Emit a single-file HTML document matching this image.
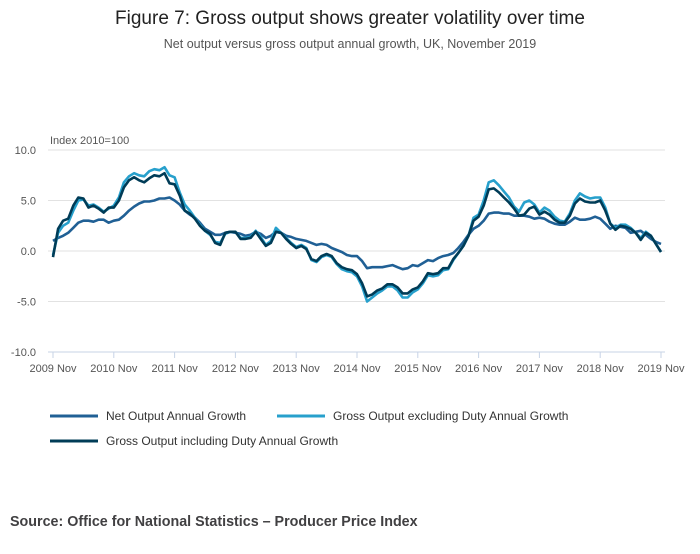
<!DOCTYPE html>
<html><head><meta charset="utf-8"><style>
body{margin:0;background:#fff;font-family:"Liberation Sans",sans-serif}
#wrap{position:relative;width:700px;height:549px}
</style></head><body>
<div id="wrap">
<svg id="svg" width="700" height="549">
<text x="350" y="24" text-anchor="middle" font-size="19" fill="#222">Figure 7: Gross output shows greater volatility over time</text>
<text x="350" y="48" text-anchor="middle" font-size="12.5" fill="#555">Net output versus gross output annual growth, UK, November 2019</text>
<text x="50" y="144" font-size="11" fill="#555">Index 2010=100</text>
<g id="grid"></g><g id="lines"></g>
<g>
<line x1="50" y1="416" x2="98" y2="416" stroke="#206095" stroke-width="3"/>
<text x="106" y="420" font-size="12" fill="#333">Net Output Annual Growth</text>
<line x1="277" y1="416" x2="325" y2="416" stroke="#27a0cc" stroke-width="3"/>
<text x="333" y="420" font-size="12" fill="#333">Gross Output excluding Duty Annual Growth</text>
<line x1="50" y1="441" x2="98" y2="441" stroke="#003c57" stroke-width="3"/>
<text x="106" y="445" font-size="12" fill="#333">Gross Output including Duty Annual Growth</text>
</g>
<text x="10" y="526" font-size="14.3" font-weight="bold" fill="#414042">Source: Office for National Statistics – Producer Price Index</text>
</svg></div>
<script>
const xTickLabels=["2009 Nov","2010 Nov","2011 Nov","2012 Nov","2013 Nov","2014 Nov","2015 Nov","2016 Nov","2017 Nov","2018 Nov","2019 Nov"];
const yTicks=[10,5,0,-5,-10];
const yTickLabels=["10.0","5.0","0.0","-5.0","-10.0"];
const netOutput=[1.0,1.3,1.5,1.8,2.3,2.8,3.0,3.0,2.9,3.1,3.1,2.8,
3.0,3.1,3.5,4.0,4.4,4.7,4.9,4.9,5.0,5.2,5.2,5.3,
5.0,4.6,4.0,3.6,3.3,2.8,2.2,1.9,1.6,1.6,1.8,1.9,
1.8,1.7,1.5,1.6,1.9,1.7,1.3,1.5,1.9,1.8,1.5,1.4,
1.2,1.1,1.0,0.8,0.6,0.7,0.6,0.3,0.1,-0.1,-0.4,-0.5,
-0.5,-1.0,-1.7,-1.6,-1.6,-1.6,-1.5,-1.4,-1.6,-1.8,-1.7,-1.4,
-1.5,-1.2,-0.9,-1.0,-0.7,-0.5,-0.4,-0.2,0.3,0.9,1.6,2.2,
2.5,3.0,3.7,3.8,3.8,3.7,3.7,3.5,3.5,3.5,3.4,3.2,
3.3,3.2,2.9,2.7,2.6,2.6,2.9,3.3,3.1,3.1,3.2,3.4,
3.2,2.7,2.2,2.5,2.4,2.3,1.8,1.9,2.0,1.6,1.2,0.9,0.7];
const grossExcl=[-0.4,1.8,2.5,2.8,4.0,5.0,5.1,4.5,4.6,4.3,3.9,4.2,
4.5,5.3,6.8,7.4,7.7,7.5,7.4,7.9,8.1,8.0,8.3,7.5,
7.3,5.8,4.6,4.0,3.3,2.6,2.0,1.6,0.9,0.8,1.7,1.9,
1.9,1.3,1.3,1.4,2.0,1.4,0.6,1.0,2.3,1.8,1.3,0.8,
0.4,0.6,0.3,-0.9,-1.1,-0.6,-0.4,-0.6,-1.3,-1.8,-2.0,-2.1,
-2.5,-3.5,-5.0,-4.6,-4.2,-3.9,-3.5,-3.5,-3.9,-4.6,-4.6,-4.1,
-3.8,-3.2,-2.4,-2.5,-2.4,-1.9,-1.8,-0.9,-0.2,0.5,1.5,3.3,
3.6,5.0,6.8,7.0,6.5,5.9,5.3,4.4,3.9,4.8,5.0,4.6,
3.8,4.3,4.0,3.4,3.0,2.9,3.7,5.0,5.7,5.4,5.2,5.3,
5.3,4.3,2.7,2.3,2.6,2.6,2.3,1.8,1.3,1.9,1.5,0.7,-0.1];
const grossIncl=[-0.6,2.2,3.0,3.2,4.5,5.3,5.2,4.3,4.5,4.2,3.8,4.3,
4.3,5.0,6.3,7.0,7.3,7.0,6.8,7.2,7.5,7.4,7.7,6.7,
6.6,5.5,4.0,3.7,3.2,2.5,2.0,1.7,0.8,0.6,1.8,1.9,
1.9,1.2,1.2,1.3,1.9,1.2,0.5,0.8,1.9,1.8,1.2,0.7,
0.3,0.5,0.2,-0.8,-1.0,-0.5,-0.3,-0.5,-1.2,-1.6,-1.8,-1.9,
-2.3,-3.2,-4.5,-4.3,-3.9,-3.7,-3.3,-3.3,-3.6,-4.2,-4.2,-3.8,
-3.6,-3.0,-2.2,-2.3,-2.2,-1.7,-1.7,-0.8,-0.2,0.5,1.5,3.0,
3.4,4.5,6.1,6.2,5.8,5.3,4.8,4.2,3.5,3.6,4.2,4.4,
3.6,3.9,3.6,3.1,2.8,2.8,3.5,4.7,5.2,4.9,4.8,4.8,
5.0,4.0,2.7,2.1,2.5,2.4,2.2,1.8,1.1,1.8,1.5,0.7,-0.1];
const NS="http://www.w3.org/2000/svg";
const X0=53,X1=661,Y10=150,Ym10=352;
const nMonths=netOutput.length-1;
function xScale(i){return X0+(X1-X0)*i/nMonths;}
function yScale(v){return Y10+(10-v)*(Ym10-Y10)/20;}
const grid=document.getElementById('grid'),lines=document.getElementById('lines');
function mk(t,a,p){const e=document.createElementNS(NS,t);for(const k in a)e.setAttribute(k,a[k]);p.appendChild(e);return e;}
yTicks.forEach((v,i)=>{
 const l=mk('line',{x1:X0-5,x2:665,y1:yScale(v),y2:yScale(v),stroke:v===-10?'#c7d3e6':'#e2e2e2','stroke-width':1},grid);
 
 
 const t=mk('text',{x:36,y:yScale(v)+4,'text-anchor':'end','font-size':11,fill:'#555'},grid);
 t.textContent=yTickLabels[i];
 
 
});
xTickLabels.forEach((s,i)=>{
 const x=xScale(i*12);
 const l=mk('line',{x1:x,x2:x,y1:Ym10,y2:Ym10+6,stroke:'#c7d3e6'},grid);
 
 
 const t=mk('text',{x:x,y:372,'text-anchor':'middle','font-size':11,fill:'#555'},grid);
 t.textContent=s;
 
 
});
function draw(arr,color,name){
 const d=arr.map((v,i)=>(i?'L':'M')+xScale(i).toFixed(1)+','+yScale(v).toFixed(1)).join('');
 const p=mk('path',{d:d,fill:'none',stroke:color,'stroke-width':2.6,'stroke-linejoin':'round'},lines);
 
 
}
draw(netOutput,'#206095','net-output-line');
draw(grossExcl,'#27a0cc','gross-excl-duty-line');
draw(grossIncl,'#003c57','gross-incl-duty-line');
</script>
</body></html>
